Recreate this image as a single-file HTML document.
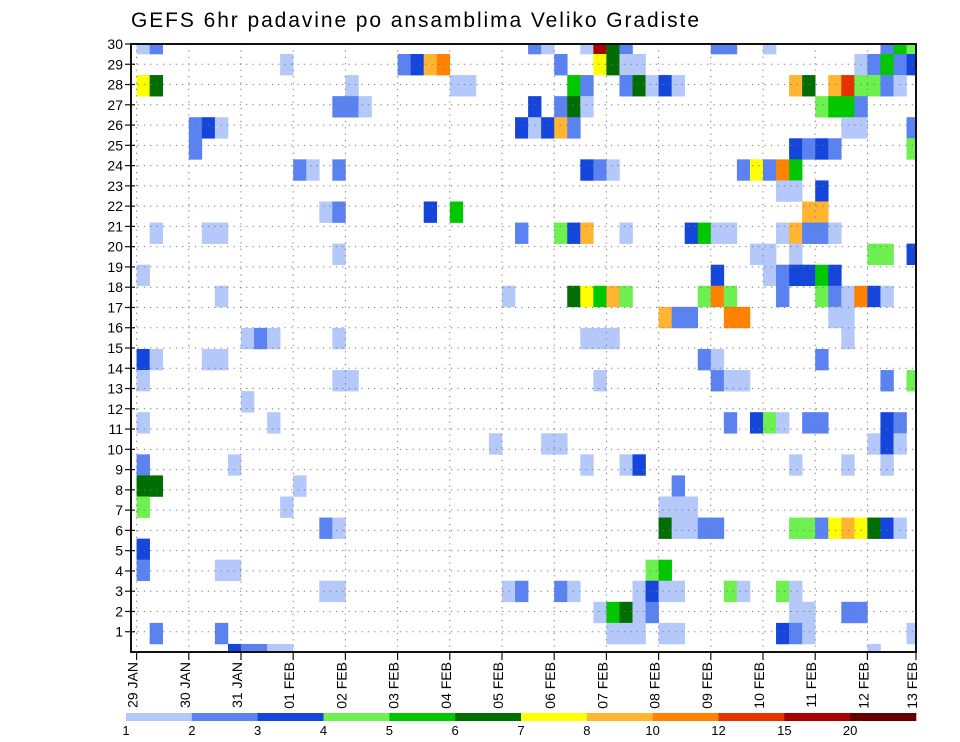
<!DOCTYPE html>
<html><head><meta charset="utf-8">
<style>
html,body{margin:0;padding:0;background:#fff;}
svg{display:block;font-family:"Liberation Sans",sans-serif;}
</style></head>
<body>
<svg id="chart" width="960" height="742" viewBox="0 0 960 742" xmlns="http://www.w3.org/2000/svg">
<text x="131" y="27" font-size="21" fill="#000" textLength="568" lengthAdjust="spacing">GEFS 6hr padavine po ansamblima Veliko Gradiste</text>
<g id="cells"></g>
<g id="grid"></g>
<g id="axes"></g>
<g id="cbar"></g>
</svg>
<script>
// ---- data ----
const dayLabels = ["29 JAN","30 JAN","31 JAN","01 FEB","02 FEB","03 FEB","04 FEB","05 FEB","06 FEB","07 FEB","08 FEB","09 FEB","10 FEB","11 FEB","12 FEB","13 FEB"];
const memberTicks = [1,2,3,4,5,6,7,8,9,10,11,12,13,14,15,16,17,18,19,20,21,22,23,24,25,26,27,28,29,30];
const levelLabels = ["1","2","3","4","5","6","7","8","10","12","15","20"];
const levelColors = ["#b4c8fa","#5a82f0","#1446dc","#6ef050","#00c800","#006e00","#ffff00","#ffb432","#ff8200","#e63200","#aa0000","#640000"];
const levelCodes = "abcdefghijkl";
// rows top->bottom (30 ensemble bands), entries "col:levelcode"
const rows = [
"0a 1b 30b 31a 34a 35k 36f 37b 44b 45b 48a 57b 58e 59d",
"11a 20b 21c 22h 23i 32b 35g 36f 37a 38a 55a 56b 57e 58b 59c",
"0g 1f 16a 24a 25a 33e 34b 37b 38f 39a 40c 41a 50h 51f 53h 54j 55d 56d 57b 58a",
"15b 16b 17a 30c 32b 33f 34a 52d 53e 54e 55b",
"4b 5c 6a 29c 30a 31c 32h 33b 54a 55a 59b",
"4b 50c 51b 52c 53b 59d",
"12b 13a 15b 34c 35b 36a 46b 47g 48b 49i 50e",
"49a 50a 52c",
"14a 15b 22c 24e 51h 52h",
"1a 5a 6a 29b 32d 33c 34h 37a 42c 43e 44a 45a 49a 50h 51b 52b 53a",
"15a 47a 48a 50a 56d 57d 59c",
"0a 44c 48a 49b 50c 51c 52e 53c",
"6a 28a 33f 34g 35e 36h 37d 43d 44i 45d 49b 52d 53b 54a 55i 56c 57a",
"40h 41b 42b 45i 46i 53a 54a",
"8a 9b 10a 15a 34a 35a 36a 54a",
"0c 1a 5a 6a 43b 44a 52b",
"0a 15a 16a 35a 44b 45a 46a 57b 59d",
"8a",
"0a 10a 45b 47c 48d 49a 51b 52b 57c 58b",
"27a 31a 32a 56a 57c 58a",
"0b 7a 34a 37a 38c 50a 54a 57a",
"0f 1f 12a 41b",
"0d 11a 40a 41a 42a",
"14b 15a 40f 41a 42a 43b 44b 50d 51d 52b 53g 54h 55g 56f 57c 58a",
"0c",
"0b 6a 7a 39d 40e",
"14a 15a 28a 29b 32b 33a 38a 39c 40a 41a 45d 46a 49d 50a",
"35a 36e 37f 38a 39b 50a 51a 54b 55b",
"1b 6b 36a 37a 38a 40a 41a 49c 50b 51a 59a",
"7c 8b 9b 10a 11a 56a"
];
// ---- geometry ----
const NS="http://www.w3.org/2000/svg";
const L=131,T=44,R=916,B=652;
const X0=136.6, DAY=52.2, COLW=DAY/4;
const BANDH=21.07, BAND1=54;
function xCol(c){return X0+c*COLW;}
function xDay(d){return X0+d*DAY;}
function yBand(k){return BAND1+(k-1)*BANDH;}
function yTick(m){return T+(30-m)*(B-T)/30;}
function mk(tag,attrs,parent){const e=document.createElementNS(NS,tag);for(const k in attrs)e.setAttribute(k,attrs[k]);parent.appendChild(e);return e;}
const cells=document.getElementById('cells');
rows.forEach((row,k)=>{
  row.split(' ').filter(s=>s).forEach(tok=>{
    const c=parseInt(tok,10);const lv=levelCodes.indexOf(tok[tok.length-1]);
    let x=xCol(c),w=COLW,y=yBand(k),h=BANDH;
    if(y<T){h-=T-y;y=T;} if(y+h>B)h=B-y; if(x+w>R)w=R-x;
    if(h<=0||w<=0)return;
    const r=mk('rect',{x:x.toFixed(2),y:y.toFixed(2),width:(w+0.3).toFixed(2),height:(h+0.3).toFixed(2),fill:levelColors[lv]},cells);
    
    
  });
});
const grid=document.getElementById('grid');
memberTicks.forEach(m=>{
  const y=yTick(m);
  const l=mk('line',{x1:L,x2:R,y1:y,y2:y,stroke:'#777','stroke-width':1,'stroke-dasharray':'1.2 5.2'},grid);
  
  
});
dayLabels.forEach((d,i)=>{
  const x=xDay(i); if(x>R-2)return;
  const l=mk('line',{x1:x,x2:x,y1:T,y2:B,stroke:'#777','stroke-width':1,'stroke-dasharray':'1.2 5.2'},grid);
  
  
});
const axes=document.getElementById('axes');
const fr=mk('rect',{x:L,y:T,width:R-L,height:B-T,fill:'none',stroke:'#111','stroke-width':2},axes);


memberTicks.forEach(m=>{
  const y=yTick(m);
  mk('line',{x1:L-6,x2:L+4,y1:y,y2:y,stroke:'#111','stroke-width':1.2},axes);
  const t=mk('text',{x:L-8,y:y+5,'font-size':14,'text-anchor':'end',fill:'#000'},axes);
  t.textContent=m;
  
  
});
dayLabels.forEach((d,i)=>{
  let x=xDay(i); if(x>R)x=R;
  mk('line',{x1:x,x2:x,y1:B,y2:B+8,stroke:'#111','stroke-width':1.2},axes);
  const tx=x+1, ty=B+10;
  const t=mk('text',{x:0,y:0,'font-size':14,'text-anchor':'end',fill:'#000',transform:'translate('+tx+','+ty+') rotate(-90)'},axes);
  t.textContent=d;
  
  
});
const cb=document.getElementById('cbar');
const CB0=126, CBW=(916-126)/levelColors.length;
levelColors.forEach((col,i)=>{
  const r=mk('rect',{x:CB0+i*CBW,y:713,width:CBW+0.3,height:8,fill:col},cb);
  
  
});
levelLabels.forEach((lab,i)=>{
  const t=mk('text',{x:CB0+i*CBW,y:735,'font-size':13,'text-anchor':'middle',fill:'#000'},cb);
  t.textContent=lab;
  
  
});
</script>
</body></html>
